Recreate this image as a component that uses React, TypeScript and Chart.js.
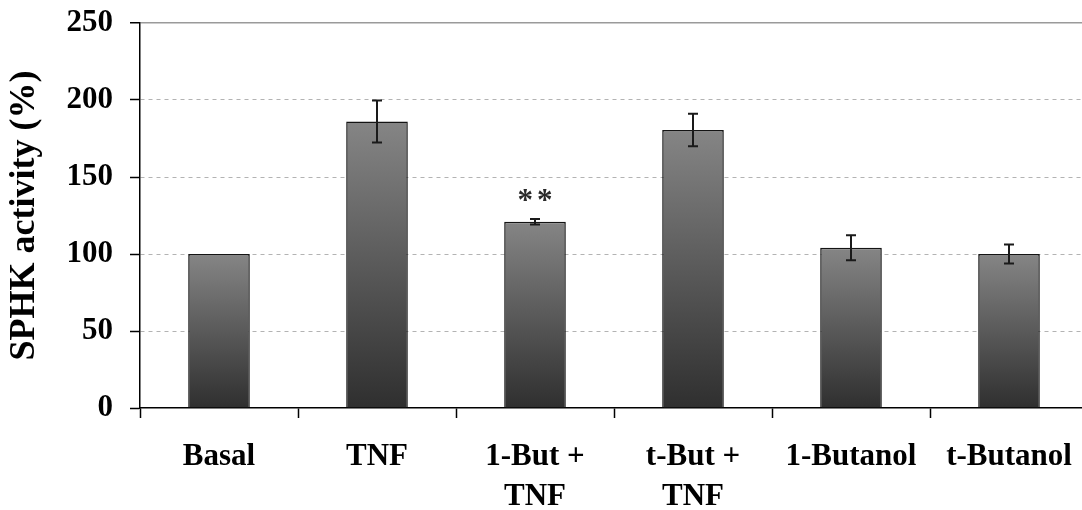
import React, { useEffect, useRef } from "react";
import { Chart, registerables } from "chart.js";

Chart.register(...registerables);

const categories: string[][] = [
  ["Basal"],
  ["TNF"],
  ["1-But +", "TNF"],
  ["t-But +", "TNF"],
  ["1-Butanol"],
  ["t-Butanol"],
];
const values = [100, 186, 121, 180.5, 104, 100];
const errors = [0, 13.6, 1.8, 10.6, 8.1, 6.2];
const annotations = ["", "", "**", "", "", ""];
const yTicks = [0, 50, 100, 150, 200, 250];
const yTitle = "SPHK activity (%)";

const FONT = "'Liberation Serif', 'Times New Roman', Times, serif";

const errorBarPlugin = {
  id: "errorBars",
  afterDatasetsDraw(chart: any) {
    const { ctx } = chart;
    const y = chart.scales.y;
    const meta = chart.getDatasetMeta(0);
    ctx.save();
    ctx.strokeStyle = "#1a1a1a";
    ctx.lineWidth = 2;
    meta.data.forEach((bar: any, i: number) => {
      const e = errors[i];
      if (!e) return;
      const x = Math.round(bar.x);
      const top = y.getPixelForValue(values[i] + e);
      const bot = y.getPixelForValue(values[i] - e);
      ctx.beginPath();
      ctx.moveTo(x, top);
      ctx.lineTo(x, bot);
      ctx.moveTo(x - 5, top);
      ctx.lineTo(x + 5, top);
      ctx.moveTo(x - 5, bot);
      ctx.lineTo(x + 5, bot);
      ctx.stroke();
    });
    ctx.fillStyle = "#2a2a2a";
    ctx.font = `bold 31px ${FONT}`;
    ctx.textAlign = "center";
    ctx.textBaseline = "alphabetic";
    (ctx as any).letterSpacing = "4px";
    annotations.forEach((t, i) => {
      if (!t) return;
      const x = meta.data[i].x + 2;
      const top = y.getPixelForValue(values[i] + errors[i]);
      ctx.fillText(t, x, top - 9);
    });
    ctx.restore();
  },
};

export default function App() {
  const ref = useRef<HTMLCanvasElement | null>(null);

  useEffect(() => {
    if (!ref.current) return;
    const chart = new Chart(ref.current, {
      type: "bar",
      data: {
        labels: categories,
        datasets: [
          {
            data: values,
            backgroundColor: (c: any) => {
              const ch = c.chart;
              const y = ch.scales && ch.scales.y;
              if (!y || c.dataIndex == null) return "#666";
              const top = y.getPixelForValue(values[c.dataIndex]);
              const bot = y.getPixelForValue(0);
              if (!isFinite(top) || !isFinite(bot) || top === bot) return "#666";
              const g = ch.ctx.createLinearGradient(0, top, 0, bot);
              g.addColorStop(0, "#858585");
              g.addColorStop(1, "#2f2f2f");
              return g;
            },
            borderColor: "#141414",
            borderWidth: 1.5,
            barPercentage: 0.39,
            categoryPercentage: 1,
          },
        ],
      },
      options: {
        responsive: false,
        animation: false,
        events: [],
        layout: { padding: { top: 23, left: 0, right: 0, bottom: 0 } },
        plugins: {
          legend: { display: false },
          tooltip: { enabled: false },
        },
        scales: {
          x: {
            offset: true,
            afterFit: (s: any) => {
              s.height = 102;
              s.paddingLeft = 0;
              s.paddingRight = 0;
            },
            grid: {
              offset: true,
              drawOnChartArea: false,
              drawTicks: true,
              tickLength: 10,
              tickColor: "#000",
              tickWidth: 1.5,
            },
            border: { display: true, color: "#000", width: 1.5 },
            ticks: {
              color: "#000",
              padding: 19,
              maxRotation: 0,
              autoSkip: false,
              font: { family: FONT, size: 31, weight: "bold", lineHeight: 1.3 },
            },
          },
          y: {
            min: 0,
            max: 250,
            afterFit: (s: any) => {
              s.width = 140;
              s.paddingTop = 0;
              s.paddingBottom = 0;
            },
            afterBuildTicks: (s: any) => {
              s.ticks = yTicks.map((v) => ({ value: v }));
            },
            grid: {
              drawOnChartArea: true,
              drawTicks: true,
              tickLength: 10,
              tickColor: "#000",
              tickWidth: 1.5,
              tickBorderDash: [],
              color: (c: any) => {
                const v = c.tick && c.tick.value;
                if (v === 0) return "rgba(0,0,0,0)";
                if (v === 250) return "#9a9a9a";
                return "#b3b3b3";
              },
              lineWidth: (c: any) => (c.tick && c.tick.value === 250 ? 1.5 : 1),
            },
            border: {
              display: true,
              color: "#000",
              width: 1.5,
              dash: (c: any) => (c.tick && c.tick.value === 250 ? [] : [4, 4]),
            },
            ticks: {
              color: "#000",
              padding: 17,
              font: { family: FONT, size: 31, weight: "bold" },
            },
            title: {
              display: true,
              text: yTitle,
              color: "#000",
              padding: { top: 3, bottom: 0 },
              font: { family: FONT, size: 36, weight: "bold", lineHeight: 1.2 },
            },
          },
        },
      },
      plugins: [errorBarPlugin],
    } as any);
    return () => chart.destroy();
  }, []);

  return (
    <div
      style={{
        position: "fixed",
        left: 0,
        top: 0,
        width: 1082,
        height: 510,
        overflow: "hidden",
        background: "#fff",
      }}
    >
      <canvas ref={ref} width={1088} height={510} style={{ display: "block" }} />
    </div>
  );
}
